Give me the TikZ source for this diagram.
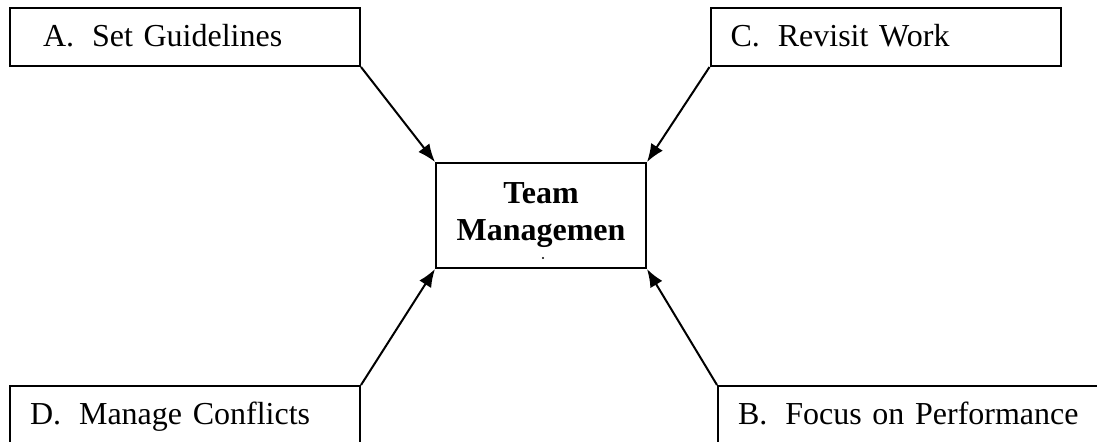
\documentclass[tikz,border=0pt]{standalone}
\usepackage{fontspec}
\setmainfont{Liberation Serif}
\usetikzlibrary{arrows.meta}
\tikzset{
    stepbox/.style={draw, line width=1pt, minimum height=29pt, inner xsep=10pt, text width=155pt, text height=1.1em, text depth=0.2em, align=left, font=\fontsize{16}{19}\selectfont},
    hub/.style={draw, line width=1pt, minimum width=105pt, minimum height=52.5pt, align=center, font=\fontsize{16}{18.5}\selectfont\bfseries},
    link/.style={line width=1pt, -{Latex[length=9pt,width=7pt]}}
}
\begin{document}
\begin{tikzpicture}[x=0.5pt,y=-0.5pt]
            \useasboundingbox (0,0) rectangle (1097,441);
            \clip (0,0) rectangle (1097,441);
            \node[stepbox, inner xsep=16.5pt, text width=142pt] (guide) at (185,37) {A.\hspace{9pt}Set Guidelines};
            \node[stepbox] (revisit) at (885.5,37) {C.\hspace{9pt}Revisit Work};
            \node[stepbox] (conflict) at (185,415) {D.\hspace{9pt}Manage Conflicts};
            \node[stepbox, text width=180pt] (perform) at (918,415) {B.\hspace{9pt}Focus on Performance};
            \node[hub] (team) at (541,215.5) {Team\\Managemen};
            \fill (543,258) circle (0.6pt);
            \draw[link] (guide.south east) -- (team.north west);
            \draw[link] (revisit.south west) -- (team.north east);
            \draw[link] (conflict.north east) -- (team.south west);
            \draw[link] (perform.north west) -- (team.south east);
        \end{tikzpicture}
\end{document}
